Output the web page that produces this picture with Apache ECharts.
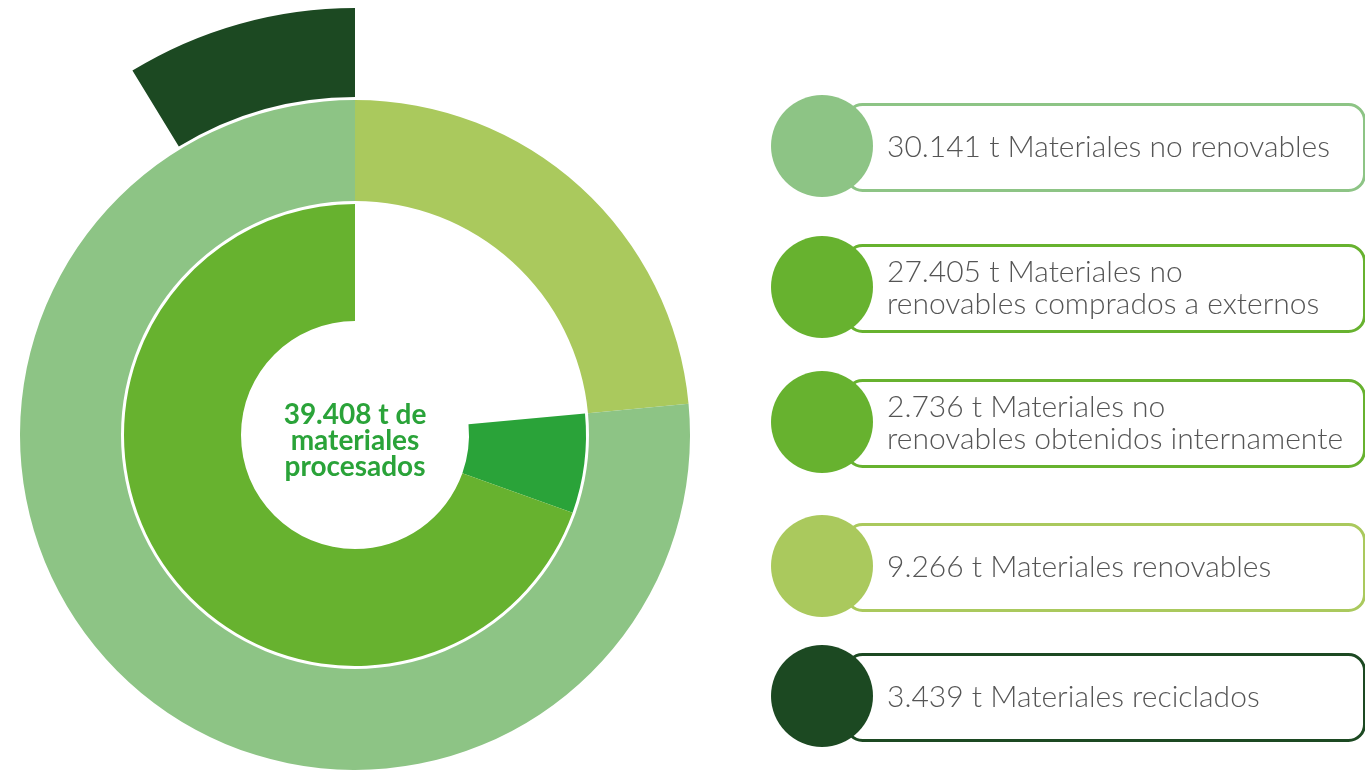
<!DOCTYPE html>
<html>
<head>
<meta charset="utf-8">
<script src="https://cdn.jsdelivr.net/npm/echarts@6/dist/echarts.min.js"></script>
<style>
html,body{margin:0;padding:0;background:#fff;}
#chart{width:1365px;height:772px;}
</style>
</head>
<body>
<div id="chart"></div>
<script>
// ---- data ----
const totalLabel = ['39.408 t de', 'materiales', 'procesados'];
const outerNames = ['Materiales renovables', 'Materiales no renovables'];
const outerValues = [9266, 30141];
const innerNames = ['Materiales no renovables obtenidos internamente', 'Materiales no renovables comprados a externos'];
const innerValues = [2736, 27405];
const recycledName = 'Materiales reciclados';
const recycledValue = 3439;
const legendLabels = [
  '30.141 t Materiales no renovables',
  '27.405 t Materiales no\nrenovables comprados a externos',
  '2.736 t Materiales no\nrenovables obtenidos internamente',
  '9.266 t Materiales renovables',
  '3.439 t Materiales reciclados'
];

// ---- styles ----
const C_NONREN = '#8DC485';
const C_REN = '#AAC95D';
const C_EXT = '#67B22F';
const C_INT = '#2AA339';
const C_REC = '#1C4922';
const legendColors = [C_NONREN, C_EXT, C_EXT, C_REN, C_REC];
const legendCenters = [146, 287, 422, 566, 696];

const total = outerValues[0] + outerValues[1];
const center = [355, 435];

const chart = echarts.init(document.getElementById('chart'), null, {renderer: 'canvas'});

const base = {
  type: 'pie', center: center, silent: true, animation: false,
  label: {show: false}, labelLine: {show: false}, avoidLabelOverlap: false,
  startAngle: 90
};

const graphics = [];
legendLabels.forEach((t, i) => {
  const cy = legendCenters[i];
  graphics.push({
    type: 'rect', left: 845, top: cy - 43,
    shape: {width: 518, height: 86, r: 16},
    style: {fill: '#fff', stroke: legendColors[i], lineWidth: 3}
  });
  graphics.push({
    type: 'circle', shape: {cx: 822, cy: cy, r: 51},
    style: {fill: legendColors[i]}
  });
  graphics.push({
    type: 'text', x: 887, y: cy + 1,
    style: {text: t, fill: '#555555', font: '300 30px Lato', lineHeight: 32, verticalAlign: 'middle', align: 'left'}
  });
});
graphics.push({
  type: 'text', x: center[0], y: 441,
  style: {text: totalLabel.join('\n'), fill: '#2AA339', font: 'bold 28px Lato', lineHeight: 26, align: 'center', verticalAlign: 'middle'}
});

chart.setOption({
  backgroundColor: '#ffffff',
  series: [
    Object.assign({}, base, {
      name: 'outer', radius: [234, 335], clockwise: true,
      data: [
        {name: outerNames[0], value: outerValues[0], itemStyle: {color: C_REN}},
        {name: outerNames[1], value: outerValues[1], itemStyle: {color: C_NONREN}}
      ]
    }),
    Object.assign({}, base, {
      name: 'inner', radius: [114, 231], clockwise: true,
      data: [
        {name: 'gap', value: outerValues[0], itemStyle: {color: 'rgba(0,0,0,0)'}},
        {name: innerNames[0], value: innerValues[0], itemStyle: {color: C_INT}},
        {name: innerNames[1], value: innerValues[1], itemStyle: {color: C_EXT}}
      ]
    }),
    Object.assign({}, base, {
      name: 'recycled', radius: [338, 427], clockwise: false,
      data: [
        {name: recycledName, value: recycledValue, itemStyle: {color: C_REC}},
        {name: 'rest', value: total - recycledValue, itemStyle: {color: 'rgba(0,0,0,0)'}}
      ]
    })
  ],
  graphic: graphics
});
</script>
</body>
</html>
